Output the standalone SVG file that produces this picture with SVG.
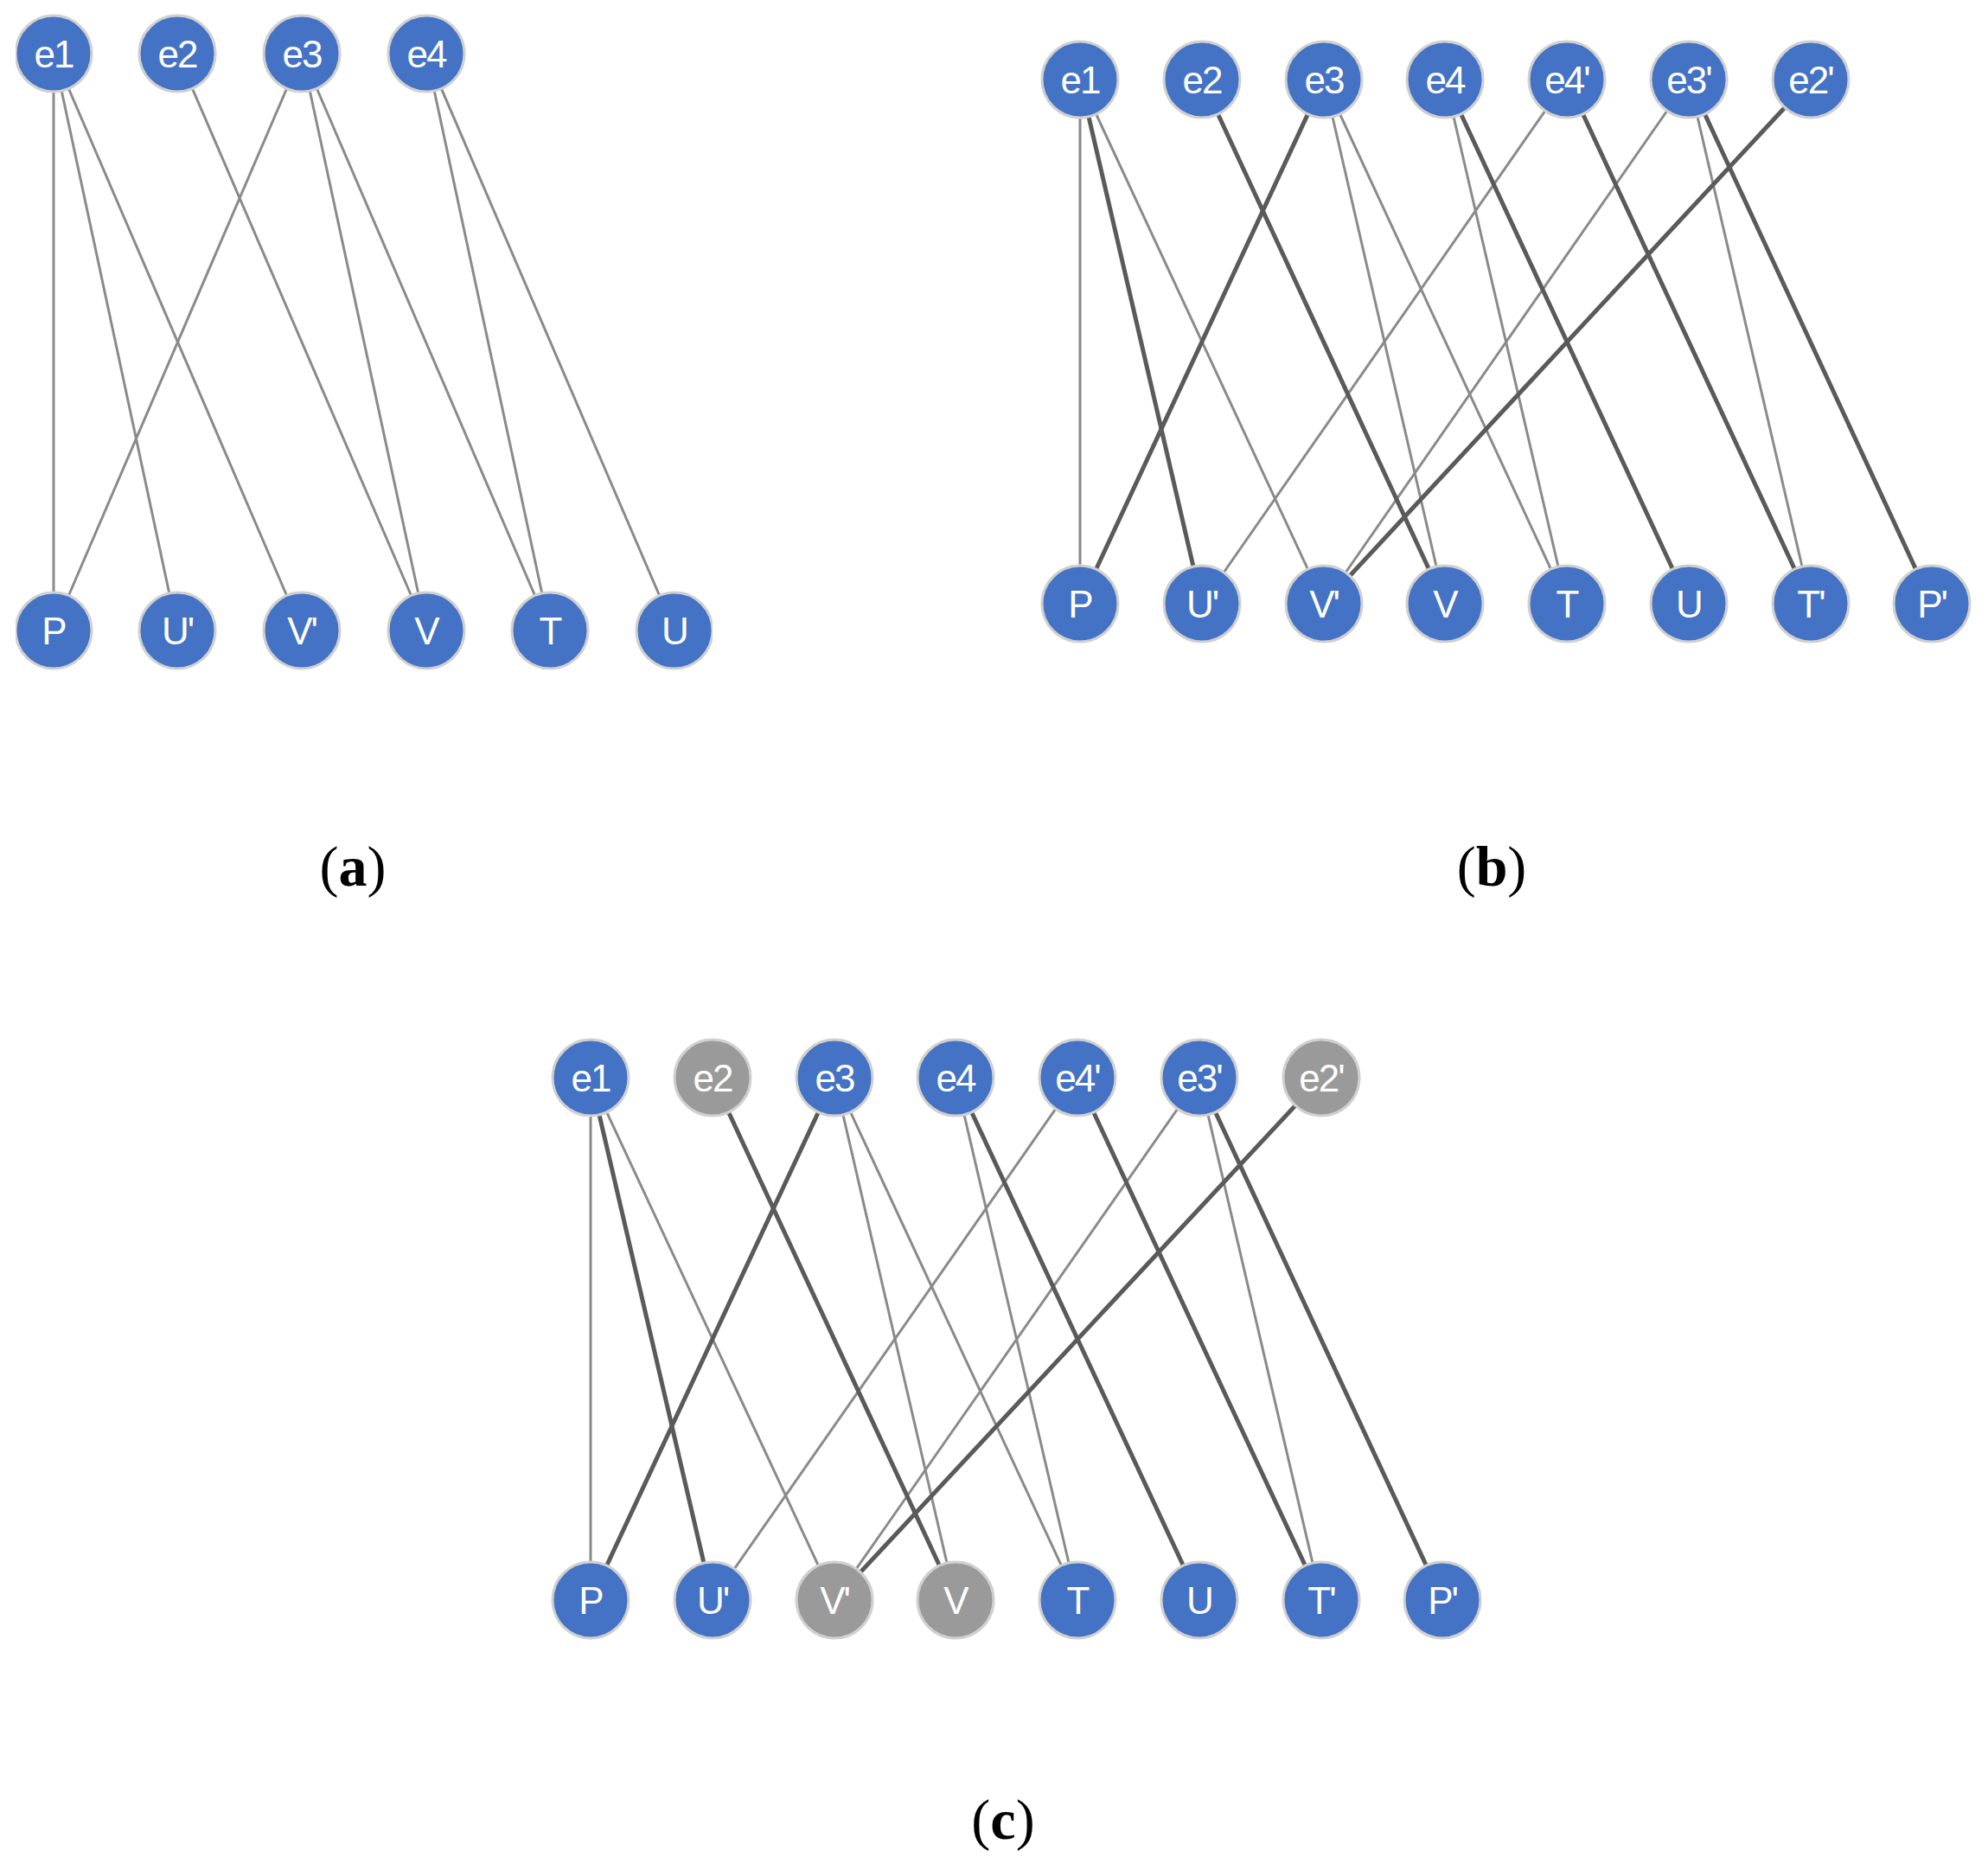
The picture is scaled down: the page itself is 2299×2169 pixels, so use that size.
<svg xmlns="http://www.w3.org/2000/svg" width="2299" height="2169" viewBox="0 0 2299 2169">
<style>
.n{fill:#4472C4;stroke:#d0d0d0;stroke-width:3}
.g{fill:#9a9a9a;stroke:#d0d0d0;stroke-width:3}
.t{fill:#fff;font-family:"Liberation Sans",Arial,sans-serif;font-size:44px;text-anchor:middle;dominant-baseline:central;letter-spacing:-2px}
.e{stroke:#8a8a8a;stroke-width:3;fill:none}
.k{stroke:#5a5a5a;stroke-width:5;fill:none}
.c{font-family:"Liberation Serif","Times New Roman",serif;font-size:66px;text-anchor:middle;fill:#000}
</style>
<defs><clipPath id="ca"><rect x="18" y="0" width="806" height="800"/></clipPath></defs>
<g id="panel-a" clip-path="url(#ca)">
<g id="edges-a">
<line class="e" x1="62" y1="62" x2="62" y2="729"/>
<line class="e" x1="62" y1="62" x2="205" y2="729"/>
<line class="e" x1="62" y1="62" x2="349" y2="729"/>
<line class="e" x1="205" y1="62" x2="493" y2="729"/>
<line class="e" x1="349" y1="62" x2="62" y2="729"/>
<line class="e" x1="349" y1="62" x2="493" y2="729"/>
<line class="e" x1="349" y1="62" x2="636" y2="729"/>
<line class="e" x1="493" y1="62" x2="636" y2="729"/>
<line class="e" x1="493" y1="62" x2="780" y2="729"/>
</g>
<g id="a-e1"><circle class="n" cx="62" cy="62" r="44"/><text class="t" x="62" y="62">e1</text></g>
<g id="a-e2"><circle class="n" cx="205" cy="62" r="44"/><text class="t" x="205" y="62">e2</text></g>
<g id="a-e3"><circle class="n" cx="349" cy="62" r="44"/><text class="t" x="349" y="62">e3</text></g>
<g id="a-e4"><circle class="n" cx="493" cy="62" r="44"/><text class="t" x="493" y="62">e4</text></g>
<g id="a-P"><circle class="n" cx="62" cy="729" r="44"/><text class="t" x="62" y="729">P</text></g>
<g id="a-U1"><circle class="n" cx="205" cy="729" r="44"/><text class="t" x="205" y="729">U'</text></g>
<g id="a-V1"><circle class="n" cx="349" cy="729" r="44"/><text class="t" x="349" y="729">V'</text></g>
<g id="a-V"><circle class="n" cx="493" cy="729" r="44"/><text class="t" x="493" y="729">V</text></g>
<g id="a-T"><circle class="n" cx="636" cy="729" r="44"/><text class="t" x="636" y="729">T</text></g>
<g id="a-U"><circle class="n" cx="780" cy="729" r="44"/><text class="t" x="780" y="729">U</text></g>
</g>

<g id="edges-b">
<line class="e" x1="1249" y1="92" x2="1249" y2="698"/>
<line class="e" x1="1249" y1="92" x2="1531" y2="698"/>
<line class="e" x1="1531" y1="92" x2="1671" y2="698"/>
<line class="e" x1="1531" y1="92" x2="1812" y2="698"/>
<line class="e" x1="1671" y1="92" x2="1812" y2="698"/>
<line class="e" x1="1812" y1="92" x2="1390" y2="698"/>
<line class="e" x1="1953" y1="92" x2="1531" y2="698"/>
<line class="e" x1="1953" y1="92" x2="2094" y2="698"/>
<line class="k" x1="1249" y1="92" x2="1390" y2="698"/>
<line class="k" x1="1390" y1="92" x2="1671" y2="698"/>
<line class="k" x1="1531" y1="92" x2="1249" y2="698"/>
<line class="k" x1="1671" y1="92" x2="1953" y2="698"/>
<line class="k" x1="1812" y1="92" x2="2094" y2="698"/>
<line class="k" x1="1953" y1="92" x2="2234" y2="698"/>
<line class="k" x1="2094" y1="92" x2="1531" y2="698"/>
</g>
<g id="b-e1"><circle class="n" cx="1249" cy="92" r="44"/><text class="t" x="1249" y="92">e1</text></g>
<g id="b-e2"><circle class="n" cx="1390" cy="92" r="44"/><text class="t" x="1390" y="92">e2</text></g>
<g id="b-e3"><circle class="n" cx="1531" cy="92" r="44"/><text class="t" x="1531" y="92">e3</text></g>
<g id="b-e4"><circle class="n" cx="1671" cy="92" r="44"/><text class="t" x="1671" y="92">e4</text></g>
<g id="b-e4p"><circle class="n" cx="1812" cy="92" r="44"/><text class="t" x="1812" y="92">e4'</text></g>
<g id="b-e3p"><circle class="n" cx="1953" cy="92" r="44"/><text class="t" x="1953" y="92">e3'</text></g>
<g id="b-e2p"><circle class="n" cx="2094" cy="92" r="44"/><text class="t" x="2094" y="92">e2'</text></g>
<g id="b-P"><circle class="n" cx="1249" cy="698" r="44"/><text class="t" x="1249" y="698">P</text></g>
<g id="b-Up"><circle class="n" cx="1390" cy="698" r="44"/><text class="t" x="1390" y="698">U'</text></g>
<g id="b-Vp"><circle class="n" cx="1531" cy="698" r="44"/><text class="t" x="1531" y="698">V'</text></g>
<g id="b-V"><circle class="n" cx="1671" cy="698" r="44"/><text class="t" x="1671" y="698">V</text></g>
<g id="b-T"><circle class="n" cx="1812" cy="698" r="44"/><text class="t" x="1812" y="698">T</text></g>
<g id="b-U"><circle class="n" cx="1953" cy="698" r="44"/><text class="t" x="1953" y="698">U</text></g>
<g id="b-Tp"><circle class="n" cx="2094" cy="698" r="44"/><text class="t" x="2094" y="698">T'</text></g>
<g id="b-Pp"><circle class="n" cx="2234" cy="698" r="44"/><text class="t" x="2234" y="698">P'</text></g>

<g id="edges-c">
<line class="e" x1="683" y1="1246" x2="683" y2="1850"/>
<line class="e" x1="683" y1="1246" x2="965" y2="1850"/>
<line class="e" x1="965" y1="1246" x2="1105" y2="1850"/>
<line class="e" x1="965" y1="1246" x2="1246" y2="1850"/>
<line class="e" x1="1105" y1="1246" x2="1246" y2="1850"/>
<line class="e" x1="1246" y1="1246" x2="824" y2="1850"/>
<line class="e" x1="1387" y1="1246" x2="965" y2="1850"/>
<line class="e" x1="1387" y1="1246" x2="1528" y2="1850"/>
<line class="k" x1="683" y1="1246" x2="824" y2="1850"/>
<line class="k" x1="824" y1="1246" x2="1105" y2="1850"/>
<line class="k" x1="965" y1="1246" x2="683" y2="1850"/>
<line class="k" x1="1105" y1="1246" x2="1387" y2="1850"/>
<line class="k" x1="1246" y1="1246" x2="1528" y2="1850"/>
<line class="k" x1="1387" y1="1246" x2="1668" y2="1850"/>
<line class="k" x1="1528" y1="1246" x2="965" y2="1850"/>
</g>
<g id="c-e1"><circle class="n" cx="683" cy="1246" r="44"/><text class="t" x="683" y="1246">e1</text></g>
<g id="c-e2"><circle class="g" cx="824" cy="1246" r="44"/><text class="t" x="824" y="1246">e2</text></g>
<g id="c-e3"><circle class="n" cx="965" cy="1246" r="44"/><text class="t" x="965" y="1246">e3</text></g>
<g id="c-e4"><circle class="n" cx="1105" cy="1246" r="44"/><text class="t" x="1105" y="1246">e4</text></g>
<g id="c-e4p"><circle class="n" cx="1246" cy="1246" r="44"/><text class="t" x="1246" y="1246">e4'</text></g>
<g id="c-e3p"><circle class="n" cx="1387" cy="1246" r="44"/><text class="t" x="1387" y="1246">e3'</text></g>
<g id="c-e2p"><circle class="g" cx="1528" cy="1246" r="44"/><text class="t" x="1528" y="1246">e2'</text></g>
<g id="c-P"><circle class="n" cx="683" cy="1850" r="44"/><text class="t" x="683" y="1850">P</text></g>
<g id="c-Up"><circle class="n" cx="824" cy="1850" r="44"/><text class="t" x="824" y="1850">U'</text></g>
<g id="c-Vp"><circle class="g" cx="965" cy="1850" r="44"/><text class="t" x="965" y="1850">V'</text></g>
<g id="c-V"><circle class="g" cx="1105" cy="1850" r="44"/><text class="t" x="1105" y="1850">V</text></g>
<g id="c-T"><circle class="n" cx="1246" cy="1850" r="44"/><text class="t" x="1246" y="1850">T</text></g>
<g id="c-U"><circle class="n" cx="1387" cy="1850" r="44"/><text class="t" x="1387" y="1850">U</text></g>
<g id="c-Tp"><circle class="n" cx="1528" cy="1850" r="44"/><text class="t" x="1528" y="1850">T'</text></g>
<g id="c-Pp"><circle class="n" cx="1668" cy="1850" r="44"/><text class="t" x="1668" y="1850">P'</text></g>

<text class="c" x="408" y="1024">(<tspan font-weight="bold">a</tspan>)</text>
<text class="c" x="1725" y="1024">(<tspan font-weight="bold">b</tspan>)</text>
<text class="c" x="1160" y="2126">(<tspan font-weight="bold">c</tspan>)</text>
</svg>
